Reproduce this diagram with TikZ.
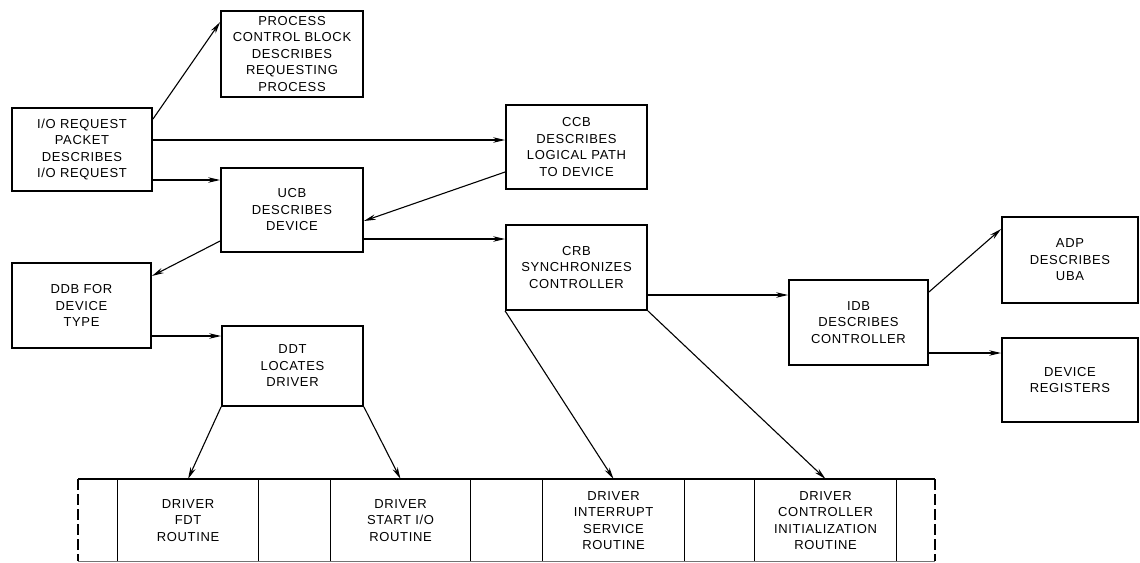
\documentclass[tikz,border=0pt]{standalone}
\usepackage{fontspec}
\setmainfont{Liberation Sans}[LetterSpace=5]
\usetikzlibrary{arrows.meta,calc}
\begin{document}
\begin{tikzpicture}[x=1pt,y=-1pt,
  font=\fontsize{13}{16.5}\selectfont,
  blockbox/.style={draw,line width=1.8pt,rectangle,align=center,inner sep=0pt},
  cellbox/.style={draw,line width=1.1pt,rectangle,align=center,inner sep=0pt,
    minimum height=82,anchor=north west},
  link/.style={line width=1.1pt,-{Stealth[length=12pt,width=5.5pt]}}]
\useasboundingbox (0,0) rectangle (1140,562);

% data structure blocks
\node[blockbox,minimum width=142,minimum height=86] (pcb) at (292,54)
  {PROCESS\\CONTROL BLOCK\\DESCRIBES\\REQUESTING\\PROCESS};
\node[blockbox,minimum width=140,minimum height=83] (iorp) at (82,149.5)
  {I/O REQUEST\\PACKET\\DESCRIBES\\I/O REQUEST};
\node[blockbox,minimum width=142,minimum height=84] (ucb) at (292,210)
  {UCB\\DESCRIBES\\DEVICE};
\node[blockbox,minimum width=141,minimum height=84] (ccb) at (576.5,147)
  {CCB\\DESCRIBES\\LOGICAL PATH\\TO DEVICE};
\node[blockbox,minimum width=141,minimum height=85] (crb) at (576.5,267.5)
  {CRB\\SYNCHRONIZES\\CONTROLLER};
\node[blockbox,minimum width=139,minimum height=85] (idb) at (858.5,322.5)
  {IDB\\DESCRIBES\\CONTROLLER};
\node[blockbox,minimum width=136,minimum height=86] (adp) at (1070,260)
  {ADP\\DESCRIBES\\UBA};
\node[blockbox,minimum width=136,minimum height=84] (devreg) at (1070,380)
  {DEVICE\\REGISTERS};
\node[blockbox,minimum width=139,minimum height=85] (ddb) at (81.5,305.5)
  {DDB FOR\\DEVICE\\TYPE};
\node[blockbox,minimum width=141,minimum height=80] (ddt) at (292.5,366)
  {DDT\\LOCATES\\DRIVER};

% driver image strip
\coordinate (stripnw) at (78,479);
\coordinate (stripsw) at (78,561);
\coordinate (stripne) at (935,479);
\coordinate (stripse) at (935,561);
\node[cellbox,minimum width=141] (fdt) at (117,479) {DRIVER\\FDT\\ROUTINE};
\node[cellbox,minimum width=140] (sio) at (330,479) {DRIVER\\START I/O\\ROUTINE};
\node[cellbox,minimum width=142] (isr) at (542,479) {DRIVER\\INTERRUPT\\SERVICE\\ROUTINE};
\node[cellbox,minimum width=142] (cir) at (754,479) {DRIVER\\CONTROLLER\\INITIALIZATION\\ROUTINE};
\draw[line width=1.1pt] (stripnw) -- (stripne);
\draw[line width=0.8pt,black!55] (stripsw) -- (stripse);
\draw[line width=1.1pt,dash pattern=on 11pt off 4pt] (stripnw) -- (stripsw);
\draw[line width=1.1pt,dash pattern=on 11pt off 4pt] (stripne) -- (stripse);

% pointers between blocks
\draw[link] ($(iorp.north east)+(0,12)$) -- ($(pcb.north west)+(0,12)$);
\draw[link] (iorp.east |- 0,140) -- (ccb.west |- 0,140);
\draw[link] (iorp.east |- 0,180) -- (ucb.west |- 0,180);
\draw[link] (ccb.west |- 0,172) -- (ucb.east |- 0,221);
\draw[link] (ucb.east |- 0,239) -- (crb.west |- 0,239);
\draw[link] (ucb.west |- 0,241) -- (ddb.east |- 0,276);
\draw[link] (ddb.east |- 0,336) -- (ddt.west |- 0,336);
\draw[link] (crb.east |- 0,295) -- (idb.west |- 0,295);
\draw[link] (idb.east |- 0,292) -- (adp.west |- 0,229);
\draw[link] (idb.east |- 0,353) -- (devreg.west |- 0,353);
\draw[link] (ddt.south west) -- (fdt.north);
\draw[link] (ddt.south east) -- (sio.north);
\draw[link] (crb.south west) -- (isr.north);
\draw[link] (crb.south east) -- (cir.north);
\end{tikzpicture}
\end{document}
